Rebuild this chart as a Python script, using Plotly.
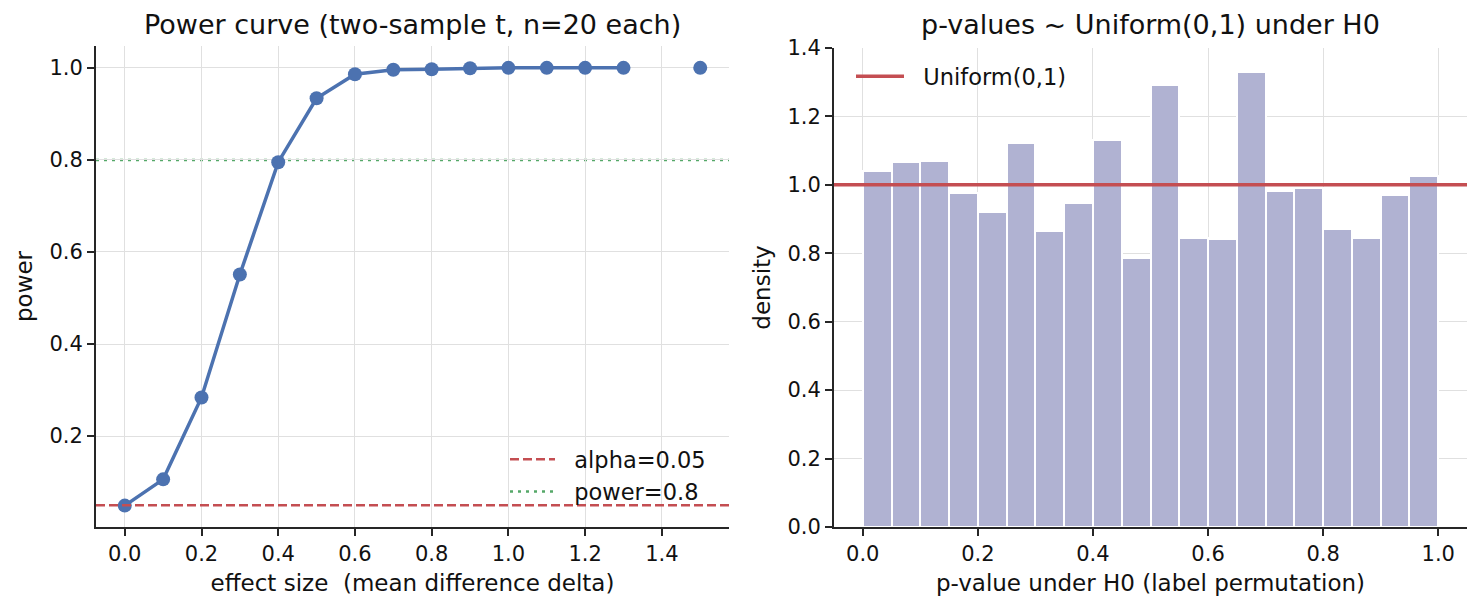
import plotly.graph_objects as go

# ---------------- data ----------------
effect_sizes = [0.0, 0.1, 0.2, 0.3, 0.4, 0.5, 0.6, 0.7, 0.8, 0.9, 1.0, 1.1, 1.2, 1.3, 1.4, 1.5]
power_values = [0.049, 0.106, 0.284, 0.551, 0.795, 0.934, 0.986, 0.996, 0.997, 0.999,
                1.0, 1.0, 1.0, 1.0, None, 1.0]
alpha_level = 0.05
power_target = 0.8

bin_width = 0.05
hist_density = [1.040, 1.066, 1.069, 0.976, 0.920, 1.122, 0.865, 0.947, 1.130, 0.786,
                1.291, 0.845, 0.842, 1.331, 0.982, 0.990, 0.870, 0.845, 0.970, 1.025]
uniform_density = 1.0

left_xticks = [0.0, 0.2, 0.4, 0.6, 0.8, 1.0, 1.2, 1.4]
left_yticks = [0.2, 0.4, 0.6, 0.8, 1.0]
right_xticks = [0.0, 0.2, 0.4, 0.6, 0.8, 1.0]
right_yticks = [0.0, 0.2, 0.4, 0.6, 0.8, 1.0, 1.2, 1.4]

# ---------------- style ----------------
W, H = 1481, 611
FONT = "DejaVu Sans"
TXT = "#111111"
BLUE = "#4C72B0"
RED = "#C44E52"
GREEN = "#55A868"
BAR = "#B0B2D2"
GRID = "#e0e0e0"
SPINE = "#262626"
PAD = "\u00a0\u00a0"

def px_x(a, b):
    return [a / W, b / W]

def px_y(top, bottom):
    return [1 - bottom / H, 1 - top / H]

bin_centers = [(i + 0.5) * bin_width for i in range(len(hist_density))]

fig = go.Figure()

# power curve
fig.add_trace(go.Scatter(
    x=effect_sizes, y=power_values, mode="lines+markers",
    line=dict(color=BLUE, width=3.5), marker=dict(color=BLUE, size=14),
    connectgaps=False, showlegend=False, xaxis="x", yaxis="y"))

# legend entries for reference lines
fig.add_trace(go.Scatter(
    x=[None], y=[None], mode="lines", name=PAD + "alpha=0.05",
    line=dict(color=RED, width=2.5, dash="9px,4px"), xaxis="x", yaxis="y", legend="legend"))
fig.add_trace(go.Scatter(
    x=[None], y=[None], mode="lines", name=PAD + "power=0.8",
    line=dict(color=GREEN, width=2.5, dash="3px,5px"), xaxis="x", yaxis="y", legend="legend"))

# histogram
fig.add_trace(go.Bar(
    x=bin_centers, y=hist_density, width=bin_width,
    marker=dict(color=BAR, line=dict(color="white", width=2)),
    showlegend=False, xaxis="x2", yaxis="y2"))
fig.add_trace(go.Scatter(
    x=[None], y=[None], mode="lines", name=PAD + "Uniform(0,1)",
    line=dict(color=RED, width=3.5), xaxis="x2", yaxis="y2", legend="legend2"))

shapes = [
    dict(type="line", xref="x domain", yref="y", x0=0, x1=1, y0=alpha_level, y1=alpha_level,
         line=dict(color=RED, width=2.5, dash="9px,4px"), layer="above"),
    dict(type="line", xref="x domain", yref="y", x0=0, x1=1, y0=power_target, y1=power_target,
         line=dict(color=GREEN, width=2.5, dash="3px,5px"), layer="below"),
    dict(type="line", xref="x2 domain", yref="y2", x0=0, x1=1, y0=uniform_density, y1=uniform_density,
         line=dict(color=RED, width=3.5), layer="above"),
]

axis_common = dict(
    showline=True, linecolor=SPINE, linewidth=1.8, mirror=False,
    ticks="outside", ticklen=7, tickwidth=1.6, tickcolor=SPINE,
    showgrid=True, gridcolor=GRID, gridwidth=1.4, zeroline=False,
    tickfont=dict(family=FONT, size=21, color=TXT),
)

LX = px_x(96, 729)
RX = px_x(834, 1467)
LY = px_y(46, 527)
RY = px_y(48, 527)

fig.update_layout(
    width=W, height=H,
    margin=dict(l=0, r=0, t=0, b=0),
    paper_bgcolor="white", plot_bgcolor="white",
    font=dict(family=FONT, color=TXT),
    shapes=shapes,
    xaxis=dict(domain=LX, range=[-0.075, 1.575], tickvals=left_xticks, tickformat=".1f",
               anchor="y", automargin=False,
               title=dict(text="effect size  (mean difference delta)",
                          font=dict(family=FONT, size=23, color=TXT), standoff=10),
               **axis_common),
    yaxis=dict(domain=LY, range=[0.0025, 1.0475], tickvals=left_yticks, tickformat=".1f",
               anchor="x", automargin=False,
               title=dict(text="power", font=dict(family=FONT, size=23, color=TXT), standoff=10),
               **axis_common),
    xaxis2=dict(domain=RX, range=[-0.05, 1.05], tickvals=right_xticks, tickformat=".1f",
                anchor="y2", automargin=False,
                title=dict(text="p-value under H0 (label permutation)",
                           font=dict(family=FONT, size=23, color=TXT), standoff=10),
                **axis_common),
    yaxis2=dict(domain=RY, range=[0, 1.4], tickvals=right_yticks, tickformat=".1f",
                anchor="x2", automargin=False,
                title=dict(text="density", font=dict(family=FONT, size=23, color=TXT), standoff=10),
                **axis_common),
    legend=dict(x=505 / W, y=1 - 438 / H, xanchor="left", yanchor="top",
                bgcolor="rgba(0,0,0,0)", font=dict(family=FONT, size=22.5, color=TXT),
                itemwidth=45, tracegroupgap=0),
    legend2=dict(x=851 / W, y=1 - 55 / H, xanchor="left", yanchor="top",
                 bgcolor="rgba(0,0,0,0)", font=dict(family=FONT, size=22.5, color=TXT),
                 itemwidth=48),
    bargap=0,
    annotations=[
        dict(text="Power curve (two-sample t, n=20 each)", x=(LX[0] + LX[1]) / 2, y=1 - 25 / H,
             xref="paper", yref="paper", xanchor="center", yanchor="middle", showarrow=False,
             font=dict(family=FONT, size=27, color=TXT)),
        dict(text="p-values ~ Uniform(0,1) under H0", x=(RX[0] + RX[1]) / 2, y=1 - 25 / H,
             xref="paper", yref="paper", xanchor="center", yanchor="middle", showarrow=False,
             font=dict(family=FONT, size=27, color=TXT)),
    ],
)

fig.write_html("out.html")
